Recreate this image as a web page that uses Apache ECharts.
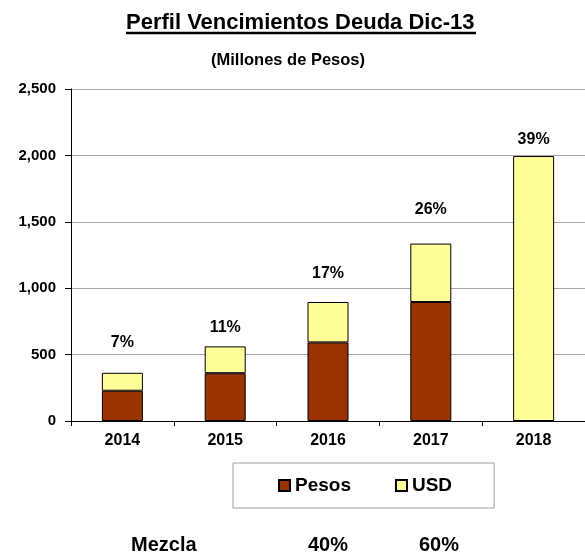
<!DOCTYPE html>
<html>
<head>
<meta charset="utf-8">
<script src="https://cdn.jsdelivr.net/npm/echarts@6/dist/echarts.min.js"></script>
<style>
  html, body { margin: 0; padding: 0; background: #fff; }
  #chart { width: 585px; height: 552px; }
</style>
</head>
<body>
<div id="chart"></div>
<script>
// data (millions of pesos)
const years = ['2014', '2015', '2016', '2017', '2018'];
const pesos = [228, 360, 592, 896, 0];
const usd = [135, 202, 304, 440, 1995];
const shareLabels = ['7%', '11%', '17%', '26%', '39%'];
const mixLabels = ['40%', '60%'];

// label gap above each stack (style only)
const labelGaps = [22, 11, 20, 26, 8];

const FONT = '"Liberation Sans", Arial, sans-serif';
const BROWN = '#993300';
const YELLOW = '#FFFF99';

const chart = echarts.init(document.getElementById('chart'));

const option = {
  animation: false,
  textStyle: { fontFamily: FONT },
  grid: { left: 71, top: 89, width: 515, height: 332 },
  legend: {
    left: 233,
    top: 463,
    padding: [13, 42, 13, 45],
    borderColor: '#a0a0a0',
    borderWidth: 1,
    itemWidth: 11,
    itemHeight: 11,
    itemGap: 44,
    icon: 'rect',
    textStyle: { fontFamily: FONT, fontWeight: 'bold', fontSize: 19, color: '#000' },
    data: ['Pesos', 'USD']
  },
  xAxis: {
    type: 'category',
    data: years,
    axisLine: { lineStyle: { color: '#000', width: 1 } },
    axisTick: { show: true, length: 5, lineStyle: { color: '#000' } },
    axisLabel: { color: '#000', fontWeight: 'bold', fontSize: 16, margin: 12, fontFamily: FONT }
  },
  yAxis: {
    type: 'value',
    min: 0,
    max: 2500,
    interval: 500,
    axisLine: { show: true, lineStyle: { color: '#000', width: 1 } },
    axisTick: { show: true, length: 6, lineStyle: { color: '#000' } },
    splitLine: { lineStyle: { color: '#a6a6a6', width: 1 } },
    axisLabel: {
      color: '#000', fontWeight: 'bold', fontSize: 15, margin: 15, fontFamily: FONT,
      formatter: v => v.toLocaleString('en-US')
    }
  },
  series: [
    {
      name: 'Pesos',
      type: 'bar',
      stack: 'deuda',
      barWidth: 41,
      data: pesos.map(v => (v === 0 ? '-' : v)),
      itemStyle: { color: BROWN, borderColor: '#000', borderWidth: 1 }
    },
    {
      name: 'USD',
      type: 'bar',
      stack: 'deuda',
      barWidth: 41,
      data: usd.map((v, i) => ({ value: v, label: { distance: labelGaps[i] } })),
      itemStyle: { color: YELLOW, borderColor: '#000', borderWidth: 1 },
      label: {
        show: true,
        position: 'top',
        color: '#000',
        fontWeight: 'bold',
        fontSize: 16,
        fontFamily: FONT,
        formatter: p => shareLabels[p.dataIndex]
      }
    }
  ],
  graphic: [
    {
      type: 'text', left: 126, top: 12, z: 10,
      style: {
        text: 'Perfil Vencimientos Deuda Dic-13',
        font: 'bold 22px ' + FONT, fill: '#000'
      }
    },
    {
      type: 'line', z: 10,
      shape: { x1: 126, y1: 33, x2: 476, y2: 33 },
      style: { stroke: '#000', lineWidth: 2.5 }
    },
    {
      type: 'text', left: 211, top: 52,
      style: { text: '(Millones de Pesos)', font: 'bold 16.5px ' + FONT, fill: '#000' }
    },
    {
      type: 'text', left: 131, top: 535,
      style: { text: 'Mezcla', font: 'bold 20px ' + FONT, fill: '#000' }
    },
    {
      type: 'text', left: 308, top: 535,
      style: { text: mixLabels[0], font: 'bold 20px ' + FONT, fill: '#000' }
    },
    {
      type: 'text', left: 419, top: 535,
      style: { text: mixLabels[1], font: 'bold 20px ' + FONT, fill: '#000' }
    }
  ]
};

chart.setOption(option);
</script>
</body>
</html>
